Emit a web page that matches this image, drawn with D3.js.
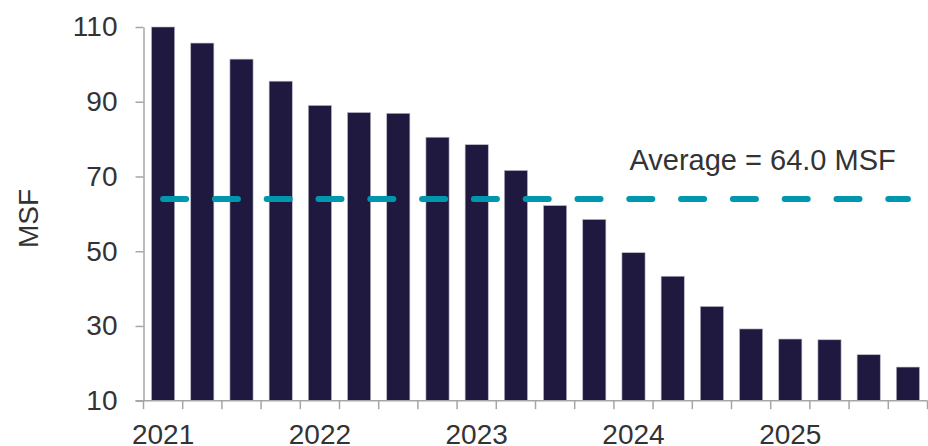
<!DOCTYPE html>
<html>
<head>
<meta charset="utf-8">
<script src="https://cdn.jsdelivr.net/npm/d3@7"></script>
<style>
  body { margin: 0; background: #fff; }
  svg { display: block; font-family: "Liberation Sans", Arial, sans-serif; }
  .axis path, .axis line { stroke: #a6a6a6; stroke-width: 1.5; }
  .axis text { fill: #333; font-size: 28px; }
</style>
</head>
<body>
<svg id="chart" width="928" height="446"></svg>
<script>
// quarterly periods 2021 Q1 .. 2025 Q4
var quarters = ["2021 Q1","2021 Q2","2021 Q3","2021 Q4",
                "2022 Q1","2022 Q2","2022 Q3","2022 Q4",
                "2023 Q1","2023 Q2","2023 Q3","2023 Q4",
                "2024 Q1","2024 Q2","2024 Q3","2024 Q4",
                "2025 Q1","2025 Q2","2025 Q3","2025 Q4"];
var values = [110.0, 105.7, 101.4, 95.5,
              89.0, 87.1, 86.9, 80.5,
              78.5, 71.6, 62.2, 58.5,
              49.6, 43.3, 35.2, 29.2,
              26.5, 26.3, 22.3, 19.0];
var yTicks = [10, 30, 50, 70, 90, 110];
var average = 64.0;
var averageLabel = "Average = 64.0 MSF";
var yTitle = "MSF";

var data = quarters.map(function(q, i) { return { key: q, value: values[i] }; });

var margin = { top: 27, right: 0.5, bottom: 45.3, left: 143.5 };
var svg = d3.select("#chart");
var width = 928 - margin.left - margin.right,
    height = 446 - margin.top - margin.bottom;

var x = d3.scaleBand().domain(quarters).range([0, width]).paddingInner(0.41).paddingOuter(0.205);
var xb = d3.scaleBand().domain(quarters).range([0, width]); // for tick positions at band edges
var y = d3.scaleLinear().domain([10, 110]).range([height, 0]);

var g = svg.append("g").attr("transform", "translate(" + margin.left + "," + margin.top + ")");

// bars
g.selectAll(".bar")
  .data(data)
  .enter().append("rect")
    .attr("class", "bar")
    .attr("x", function(d) { return x(d.key); })
    .attr("y", function(d) { return y(d.value); })
    .attr("width", x.bandwidth())
    .attr("height", function(d) { return height - y(d.value); })
    .attr("fill", "#1f1940")
    .attr("stroke", "#b8b6c4")
    .attr("stroke-width", 0.6);

// y axis
var yAxis = g.append("g")
  .attr("class", "axis axis--y")
  .call(d3.axisLeft(y).tickValues(yTicks).tickSize(8).tickSizeOuter(0).tickPadding(18));

// x axis: ticks at every band edge, labels at Q1 of each year
var edges = quarters.map(function(q) { return xb(q); }).concat([width]);
var xAxisG = g.append("g")
  .attr("class", "axis axis--x")
  .attr("transform", "translate(0," + height + ")");
xAxisG.append("line").attr("x1", -8).attr("x2", width).attr("y1", 0).attr("y2", 0);
xAxisG.selectAll(".tick")
  .data(edges)
  .enter().append("line")
    .attr("x1", function(d) { return d; })
    .attr("x2", function(d) { return d; })
    .attr("y1", 0)
    .attr("y2", 8.5);
xAxisG.selectAll(".yr")
  .data(quarters.filter(function(q) { return /Q1$/.test(q); }))
  .enter().append("text")
    .attr("x", function(d) { return xb(d) + xb.bandwidth() / 2; })
    .attr("y", 43.5)
    .attr("text-anchor", "middle")
    .text(function(d) { return d.slice(0, 4); });

// average line
g.append("line")
  .attr("x1", xb(quarters[0]) + xb.bandwidth() / 2)
  .attr("x2", xb(quarters[quarters.length - 1]) + xb.bandwidth() / 2)
  .attr("y1", y(average))
  .attr("y2", y(average))
  .attr("stroke", "#0097ae")
  .attr("stroke-width", 6)
  .attr("stroke-linecap", "round")
  .attr("stroke-dasharray", "23,28.8");

g.append("text")
  .attr("x", 486)
  .attr("y", 143)
  .attr("fill", "#333")
  .style("font-size", "29px")
  .text(averageLabel);

// y title
svg.append("text")
  .attr("transform", "translate(38," + (margin.top + y(70) + 42) + ") rotate(-90)")
  .attr("text-anchor", "middle")
  .attr("fill", "#333")
  .style("font-size", "28px")
  .text(yTitle);
</script>
</body>
</html>
